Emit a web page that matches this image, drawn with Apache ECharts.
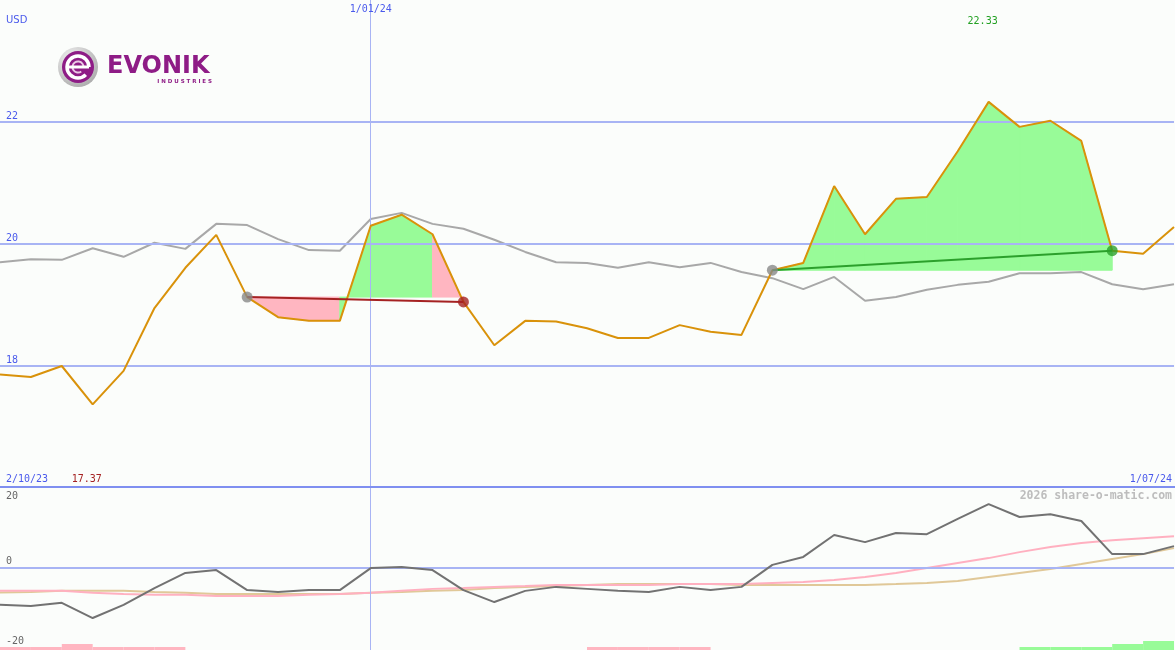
<!DOCTYPE html>
<html><head><meta charset="utf-8">
<script src="https://cdn.jsdelivr.net/npm/echarts@6/dist/echarts.min.js"></script>
<style>html,body{margin:0;padding:0;background:#fbfdfb}#c{width:1175px;height:650px}</style>
</head><body><div id="c"></div><script>
// weekly closes (index 0 = 2/10/23 ... 38 = 1/07/24)
const price = [17.86,17.82,18.00,17.37,17.92,18.95,19.61,20.15,19.13,18.80,18.74,18.74,20.30,20.48,20.16,19.05,18.34,18.74,18.73,18.62,18.46,18.46,18.67,18.56,18.51,19.57,19.69,20.95,20.16,20.74,20.77,21.52,22.33,21.92,22.02,21.69,19.89,19.84,20.28];
const bench = [19.70,19.75,19.74,19.93,19.79,20.02,19.92,20.33,20.31,20.08,19.90,19.89,20.41,20.51,20.33,20.25,20.07,19.87,19.70,19.69,19.61,19.70,19.62,19.69,19.54,19.44,19.26,19.46,19.07,19.13,19.25,19.33,19.38,19.52,19.52,19.54,19.34,19.26,19.34];
const momentum = [-9.3,-9.6,-8.8,-12.6,-9.3,-5.1,-1.3,-0.6,-5.6,-6.1,-5.6,-5.6,-0.1,0.2,-0.6,-5.6,-8.6,-5.8,-4.8,-5.3,-5.8,-6.1,-4.8,-5.6,-4.8,0.7,2.7,8.2,6.4,8.7,8.4,12.2,15.9,12.7,13.4,11.7,3.4,3.4,5.4];
const avgFast = [-5.8,-5.8,-5.8,-6.3,-6.6,-6.8,-6.8,-7.1,-7.1,-7.1,-6.8,-6.6,-6.3,-5.8,-5.3,-5.1,-4.8,-4.6,-4.3,-4.3,-4.3,-4.3,-4.1,-4.1,-4.1,-3.8,-3.6,-3.1,-2.3,-1.3,-0.1,1.2,2.4,3.9,5.2,6.2,6.9,7.4,7.9];
const avgSlow = [-6.2,-6.1,-5.8,-5.8,-5.8,-6.1,-6.3,-6.6,-6.6,-6.6,-6.6,-6.6,-6.3,-6.1,-5.8,-5.6,-5.1,-4.8,-4.6,-4.3,-4.1,-4.1,-4.1,-4.1,-4.3,-4.3,-4.3,-4.3,-4.3,-4.1,-3.8,-3.3,-2.3,-1.3,-0.3,0.9,2.2,3.4,4.9];
// signal strength per weekly interval (negative = pink, positive = green)
const signal = [-1,-1,-2,-1,-1,-1,0,0,0,0,0,0,0,0,0,0,0,0,0,-1,-1,-1,-1,0,0,0,0,0,0,0,0,0,0,1,1,1,2,3];
const tradeStart = [8, 25];
const tradeEnd = [15, 36];
const dateLabels = ['2/10/23', '1/01/24', '1/07/24'];
const dateIndex = [0, 12, 38];
const priceTicks = [18, 20, 22];
const oscTicks = [20, 0, -20];
const currency = 'USD';
const watermark = '2026 share-o-matic.com';

const GREEN = '#98fb98', PINK = '#ffb6c1', GRID = '#a8b4f4';
const chart = echarts.init(document.getElementById('c'));

const fillData = [];
tradeStart.forEach((s, t) => { for (let i = s; i < tradeEnd[t]; i++) fillData.push([i, t]); });
const tradeSeries = [];
tradeStart.forEach((s, t) => {
  const e = tradeEnd[t];
  const win = price[e] >= price[s];
  const col = win ? '#2ca02c' : '#a52222';
  tradeSeries.push({type:'line', xAxisIndex:0, yAxisIndex:0, z:6, symbol:'none', silent:true,
    data:[[s, price[s]], [e, price[e]]], lineStyle:{color:col, width:2}});
  tradeSeries.push({type:'scatter', xAxisIndex:0, yAxisIndex:0, z:7, symbolSize:11, silent:true,
    data:[{value:[s, price[s]], itemStyle:{color:'#888888'}}, {value:[e, price[e]], itemStyle:{color:col}}]});
});

const mono = '"DejaVu Sans Mono", monospace';

chart.setOption({
  animation:false,
  backgroundColor:'#fbfdfb',
  grid:[{left:0, width:1174, top:0, height:488}, {left:0, width:1174, top:487, height:163}],
  xAxis:[{type:'value', gridIndex:0, min:0, max:38, show:false}, {type:'value', gridIndex:1, min:0, max:38, show:false}],
  yAxis:[{type:'value', gridIndex:0, min:16, max:24, show:false},
         {type:'value', gridIndex:1, min:-20.6, max:20.2, show:false},
         {type:'value', gridIndex:1, min:0, max:54.33, show:false}],
  series:[
    {type:'line', xAxisIndex:0, yAxisIndex:0, z:2, symbol:'none', silent:true,
      data: bench.map((v, i) => [i, v]), lineStyle:{color:'#a8a8a8', width:2},
      markLine:{silent:true, symbol:'none', label:{show:false}, animation:false,
        data:[...priceTicks.map(v => ({yAxis:v, lineStyle:{color:GRID, width:2, type:'solid'}})),
              {xAxis:dateIndex[1], lineStyle:{color:GRID, width:1, type:'solid'}}]}},
    {type:'custom', xAxisIndex:0, yAxisIndex:0, z:3, silent:true, data:fillData,
      renderItem:(params, api) => {
        const i = api.value(0), t = api.value(1);
        const base = price[tradeStart[t]];
        const b0 = api.coord([i, base]), b1 = api.coord([i + 1, base]);
        const p0 = api.coord([i, price[i]]), p1 = api.coord([i + 1, price[i + 1]]);
        const c = price[i + 1] >= base ? GREEN : PINK;
        return {type:'polygon', shape:{points:[b0, p0, p1, b1]},
          style:{fill:c, stroke:c, lineWidth:1}};
      }},
    {type:'line', xAxisIndex:0, yAxisIndex:0, z:5, symbol:'none', silent:true,
      data: price.map((v, i) => [i, v]), lineStyle:{color:'#d9920a', width:2}},
    ...tradeSeries,
    {type:'custom', xAxisIndex:1, yAxisIndex:2, z:2, silent:true, data: signal.map((v, i) => [i, v]),
      renderItem:(params, api) => {
        const i = api.value(0), v = api.value(1);
        if (!v) return null;
        const a = api.coord([i, 0]), b = api.coord([i + 1, Math.abs(v)]);
        return {type:'rect', shape:{x:a[0], y:b[1], width:b[0] - a[0], height:a[1] - b[1]},
          style:{fill: v > 0 ? GREEN : PINK}};
      }},
    {type:'line', xAxisIndex:1, yAxisIndex:1, z:3, symbol:'none', silent:true,
      data: avgSlow.map((v, i) => [i, v]), lineStyle:{color:'#e0c898', width:2},
      markLine:{silent:true, symbol:'none', label:{show:false}, animation:false,
        data:[{yAxis:0, lineStyle:{color:GRID, width:2, type:'solid'}},
              {xAxis:dateIndex[1], lineStyle:{color:GRID, width:1, type:'solid'}}]}},
    {type:'line', xAxisIndex:1, yAxisIndex:1, z:4, symbol:'none', silent:true,
      data: avgFast.map((v, i) => [i, v]), lineStyle:{color:'#ffb0c0', width:2}},
    {type:'line', xAxisIndex:1, yAxisIndex:1, z:5, symbol:'none', silent:true,
      data: momentum.map((v, i) => [i, v]), lineStyle:{color:'#727272', width:2}}
  ]
});

const P = (x, y) => chart.convertToPixel({xAxisIndex:0, yAxisIndex:0}, [x, y]);
const O = (x, y) => chart.convertToPixel({xAxisIndex:1, yAxisIndex:1}, [x, y]);
const txt = (x, y, s, color, align, font) => ({type:'text', x, y, z:20, silent:true,
  style:{text:s, fill:color, align:align || 'left', verticalAlign:'middle', font: font || ('10px ' + mono)}});

const g = [];
g.push({type:'line', z:15, silent:true, shape:{x1:0, y1:487, x2:1175, y2:487}, style:{stroke:'#7f8ff0', lineWidth:2}});
g.push(txt(6, 20, currency, '#4a5aec', 'left', '10px "DejaVu Sans", sans-serif'));
priceTicks.forEach(v => g.push(txt(6, P(0, v)[1] - 6, String(v), '#4a5aec')));
g.push(txt(P(dateIndex[1], 0)[0], 9, dateLabels[1], '#4a5aec', 'center'));
g.push(txt(6, 479, dateLabels[0], '#4a5aec'));
g.push(txt(1172, 479, dateLabels[2], '#4a5aec', 'right'));
const maxV = Math.max(...price), minV = Math.min(...price);
g.push(txt(P(price.indexOf(maxV), 0)[0] - 6, 21, maxV.toFixed(2), '#22a022', 'center'));
g.push(txt(P(price.indexOf(minV), 0)[0] - 6, 479, minV.toFixed(2), '#a52222', 'center'));
g.push(txt(1172, 496, watermark, '#bdbdbd', 'right', 'bold 11.5px ' + mono));
oscTicks.forEach(v => {
  const y = Math.min(Math.max(O(0, v)[1] - 6, 496), 642);
  g.push(txt(6, y, String(v), '#666666'));
});
g.push({type:'group', x:78, y:67, z:20, silent:true, children:[
  {type:'circle', shape:{cx:0, cy:0, r:20}, style:{fill:new echarts.graphic.RadialGradient(0.35, 0.3, 0.8, [{offset:0, color:'#f4f4f4'}, {offset:1, color:'#a8a8a8'}])}},
  {type:'circle', shape:{cx:0, cy:0, r:16}, style:{fill:'#8e1c86'}},
  {type:'arc', shape:{cx:0, cy:0, r:11, startAngle:0.25 * Math.PI, endAngle:2 * Math.PI}, style:{stroke:'#ffffff', lineWidth:3.5, fill:null}},
  {type:'arc', shape:{cx:0, cy:0, r:5.5, startAngle:0.3 * Math.PI, endAngle:2 * Math.PI}, style:{stroke:'#e9c9e4', lineWidth:2, fill:null}},
  {type:'rect', shape:{x:-11, y:-1.5, width:22, height:3}, style:{fill:'#ffffff'}}
]});
g.push({type:'text', x:107, y:67, z:20, silent:true, style:{text:'EVONIK', fill:'#8e1c86', verticalAlign:'middle', font:'bold 24px "DejaVu Sans", sans-serif'}});
g.push({type:'text', x:212, y:81.5, z:20, silent:true, style:{text:'I N D U S T R I E S', fill:'#8e1c86', align:'right', verticalAlign:'middle', font:'bold 5.5px "DejaVu Sans", sans-serif'}});
chart.setOption({graphic:g});
</script></body></html>
